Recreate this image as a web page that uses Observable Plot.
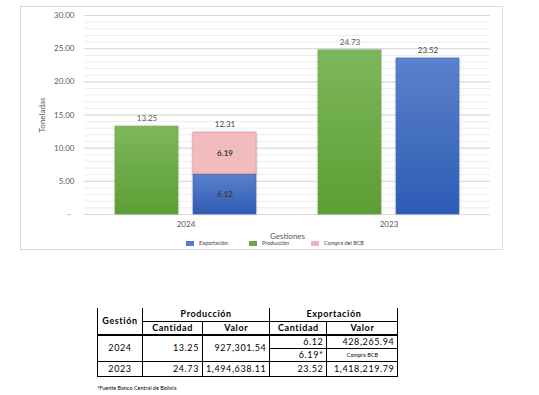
<!DOCTYPE html>
<html>
<head>
<meta charset="utf-8">
<script src="https://cdn.jsdelivr.net/npm/d3@7"></script>
<script src="https://cdn.jsdelivr.net/npm/@observablehq/plot@0.6"></script>
<style>
  html, body { margin: 0; padding: 0; background: #fff; }
  body { width: 539px; height: 395px; position: relative; overflow: hidden; font-family: Lato, "Open Sans", sans-serif; }
  #frame { position: absolute; left: 20px; top: 6px; width: 481px; height: 242px; border: 1px solid #d9d9d9; box-sizing: content-box; }
  #chart { position: absolute; left: 0; top: 0; }
  #legend { position: absolute; top: 240px; left: 0; width: 539px; height: 8px; font-size: 5.5px; color: #404040; }
  .lg { position: absolute; top: 0; display: flex; align-items: center; }
  .sw { width: 8px; height: 5px; margin-right: 5px; }
  #tbl { position: absolute; left: 97px; top: 308px; border-collapse: collapse; font-family: Lato, "Open Sans", sans-serif; font-size: 9px; color: #000; letter-spacing: 0.6px; }
  #tbl td { padding: 0 3px; height: 12px; line-height: 12px; box-sizing: border-box; }
  #note { position: absolute; left: 97px; top: 385px; font-size: 5.5px; color: #000; }
</style>
</head>
<body>
<div id="frame"></div>
<div id="chart"></div>
<div id="legend"></div>
<table id="tbl"></table>
<div id="note">*Fuente Banco Central de Bolivia</div>
<script>
// ---- data ----
const gestiones = ["2024", "2023"];
const produccion = [13.25, 24.73];
const exportacion = [6.12, 23.52];
const compraBCB = [6.19, 0];
const exportTotalLabel = ["12.31", "23.52"];
const valorProduccion = ["927,301.54", "1,494,638.11"];
const valorExportacion = ["428,265.94", "1,418,219.79"];
const series = ["Exportación", "Producción", "Compra del BCB"];
const yTicks = [0, 5, 10, 15, 20, 25, 30];
const yMinor = d3.range(0, 31, 1);

// ---- tables for marks ----
const prodRows = gestiones.map((g, i) => ({g, grp: "P", y: produccion[i], label: produccion[i].toFixed(2)}));
const expRows = gestiones.map((g, i) => ({g, grp: "E", y: exportacion[i]}));
const bcbRows = gestiones.map((g, i) => ({g, grp: "E", y1: exportacion[i], y2: exportacion[i] + compraBCB[i], v: compraBCB[i]})).filter(d => d.v > 0);
const expTopRows = gestiones.map((g, i) => ({g, grp: "E", y: exportacion[i] + compraBCB[i], label: exportTotalLabel[i]}));
const insideRows = [
  ...bcbRows.map(d => ({g: d.g, grp: d.grp, y: (d.y1 + d.y2) / 2, label: d.v.toFixed(2)})),
  ...gestiones.map((g, i) => ({g, grp: "E", y: exportacion[i] / 2, label: exportacion[i].toFixed(2), show: compraBCB[i] > 0})).filter(d => d.show)
];

const chart = Plot.plot({
  width: 539,
  height: 255,
  marginLeft: 83,
  marginRight: 49,
  marginTop: 15,
  marginBottom: 41,
  style: {fontFamily: "Lato, 'Open Sans', sans-serif", fontSize: "8px", color: "#595959", background: "transparent"},
  fx: {domain: gestiones, padding: 0},
  x: {domain: ["P", "E"], paddingInner: 0.192, paddingOuter: 0.397, axis: null},
  y: {domain: [0, 30]},
  marks: [
    Plot.ruleY(yMinor, {stroke: "#eeeeee", strokeWidth: 1}),
    Plot.ruleY(yTicks, {stroke: "#d9d9d9", strokeWidth: 1}),
    Plot.axisY({ticks: yTicks, tickSize: 0, tickPadding: 10, tickFormat: d => d === 0 ? "-  " : d.toFixed(2),
      label: "Toneladas", labelAnchor: "center", labelArrow: "none", labelOffset: 45, fontSize: 8}),
    Plot.axisFx({anchor: "bottom", tickSize: 0, tickPadding: 7, label: "Gestiones", labelAnchor: "center", labelArrow: "none", labelOffset: 24, fontSize: 8}),
    Plot.barY(prodRows, {fx: "g", x: "grp", y: "y", fill: "url(#gGreen)", stroke: "#6aaa44", strokeWidth: 0.5}),
    Plot.barY(expRows, {fx: "g", x: "grp", y: "y", fill: "url(#gBlue)", stroke: "#3f69c0", strokeWidth: 0.5}),
    Plot.barY(bcbRows, {fx: "g", x: "grp", y1: "y1", y2: "y2", fill: "#f2bcbf", stroke: "#e9a3a7", strokeWidth: 1}),
    Plot.text(prodRows, {fx: "g", x: "grp", y: "y", text: "label", dy: -8, fill: "#595959", fontSize: 8}),
    Plot.text(expTopRows, {fx: "g", x: "grp", y: "y", text: "label", dy: -8, fill: "#404040", fontSize: 8}),
    Plot.text(insideRows, {fx: "g", x: "grp", y: "y", text: "label", fill: "#3a3a3a", fontSize: 8, fontWeight: "bold"})
  ]
});

d3.select(chart).insert("defs", ":first-child").html(`
  <linearGradient id="gGreen" x1="0" y1="0" x2="0" y2="1">
    <stop offset="0" stop-color="#7db75c"/><stop offset="1" stop-color="#5d9e32"/>
  </linearGradient>
  <linearGradient id="gBlue" x1="0" y1="0" x2="0" y2="1">
    <stop offset="0" stop-color="#5b82ca"/><stop offset="1" stop-color="#2d5cb5"/>
  </linearGradient>`);
d3.select(chart).selectAll("[aria-label='bar'] rect").style("filter", "drop-shadow(0.8px 0.8px 0.8px rgba(0,0,0,0.25))");
document.getElementById("chart").append(chart);

// ---- legend ----
const legColors = {"Exportación": "#4f7fd0", "Producción": "#6aab41", "Compra del BCB": "#f0b4b8"};
const legX = {"Exportación": 186, "Producción": 249, "Compra del BCB": 311};
const legend = document.getElementById("legend");
series.forEach(s => {
  const it = document.createElement("div");
  it.className = "lg";
  it.style.left = legX[s] + "px";
  it.innerHTML = `<div class="sw" style="background:${legColors[s]}"></div><span>${s}</span>`;
  legend.append(it);
});

// ---- table ----
const B = "1px solid #000";
const tbl = document.getElementById("tbl");
const widths = [45, 60, 65, 57, 71];
function cell(tr, text, opts = {}) {
  const td = document.createElement("td");
  td.textContent = text;
  Object.assign(td.style, opts.style || {});
  if (opts.rs) td.rowSpan = opts.rs;
  if (opts.cs) td.colSpan = opts.cs;
  tr.append(td);
  return td;
}
const cg = document.createElement("colgroup");
widths.forEach(w => { const c = document.createElement("col"); c.style.width = w + "px"; cg.append(c); });
tbl.append(cg);
let tr = tbl.insertRow();
cell(tr, "Gestión", {rs: 2, style: {borderLeft: B, borderRight: B, borderBottom: "2px solid #000", textAlign: "center", fontWeight: "bold"}});
cell(tr, "Producción", {cs: 2, style: {borderRight: B, borderBottom: B, textAlign: "center", fontWeight: "bold", height: "13px"}});
cell(tr, "Exportación", {cs: 2, style: {borderRight: B, borderBottom: B, textAlign: "center", fontWeight: "bold", height: "13px"}});
tr = tbl.insertRow();
["Cantidad", "Valor", "Cantidad", "Valor"].forEach(t => cell(tr, t, {style: {borderRight: B, borderBottom: "2px solid #000", textAlign: "center", fontWeight: "bold", height: "13px"}}));
// 2024
tr = tbl.insertRow();
cell(tr, gestiones[0], {rs: 2, style: {borderLeft: B, borderRight: B, borderBottom: B, textAlign: "center"}});
cell(tr, produccion[0].toFixed(2), {rs: 2, style: {borderRight: B, borderBottom: B, textAlign: "right"}});
cell(tr, valorProduccion[0], {rs: 2, style: {borderRight: B, borderBottom: B, textAlign: "right"}});
cell(tr, exportacion[0].toFixed(2), {style: {borderRight: B, borderBottom: B, textAlign: "right", height: "13px"}});
cell(tr, valorExportacion[0], {style: {borderRight: B, borderBottom: B, textAlign: "right", height: "13px"}});
tr = tbl.insertRow();
cell(tr, compraBCB[0].toFixed(2) + "*", {style: {borderRight: B, borderBottom: B, textAlign: "right", height: "13px"}});
cell(tr, "Compra BCB", {style: {borderRight: B, borderBottom: B, textAlign: "center", fontSize: "5.5px", letterSpacing: "0", height: "13px"}});
// 2023
tr = tbl.insertRow();
cell(tr, gestiones[1], {style: {borderLeft: B, borderRight: B, borderBottom: B, textAlign: "center", height: "15px"}});
cell(tr, produccion[1].toFixed(2), {style: {borderRight: B, borderBottom: B, textAlign: "right", height: "15px"}});
cell(tr, valorProduccion[1], {style: {borderRight: B, borderBottom: B, textAlign: "right", height: "15px"}});
cell(tr, exportacion[1].toFixed(2), {style: {borderRight: B, borderBottom: B, textAlign: "right", height: "15px"}});
cell(tr, valorExportacion[1], {style: {borderRight: B, borderBottom: B, textAlign: "right", height: "15px"}});
</script>
</body>
</html>
